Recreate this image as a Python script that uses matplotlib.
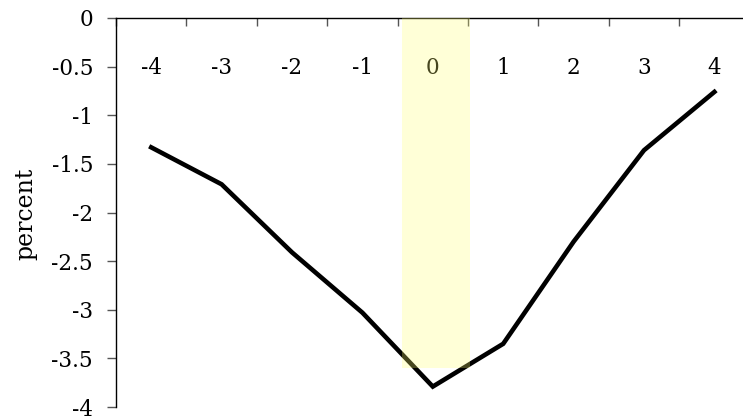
import matplotlib.pyplot as plt
import numpy as np

# event time (categories) and response in percent
event_time = [-4, -3, -2, -1, 0, 1, 2, 3, 4]
percent = [-1.33, -1.71, -2.41, -3.03, -3.79, -3.35, -2.30, -1.36, -0.76]
y_ticks = [0, -0.5, -1, -1.5, -2, -2.5, -3, -3.5, -4]
y_tick_labels = ['0', '-0.5', '-1', '-1.5', '-2', '-2.5', '-3', '-3.5', '-4']

# highlighted window around event
band_x = [-0.44, 0.53]
band_bottom = -3.6

plt.rcParams['font.family'] = 'DejaVu Serif'
plt.rcParams['axes.unicode_minus'] = False

fig = plt.figure(figsize=(7.43, 4.18), dpi=100)
ax = fig.add_axes([116 / 743, 11 / 418, 633.6 / 743, 389 / 418])

x = np.arange(len(event_time))
ax.plot(x, percent, color='black', lw=3.3, solid_joinstyle='miter', zorder=2)

# semi transparent band drawn over the line
ax.fill_between([band_x[0] + 4, band_x[1] + 4], band_bottom, 0,
                color='#ffff70', alpha=0.28, lw=0, zorder=3)

ax.set_xlim(-0.5, len(event_time) - 0.5)
ax.set_ylim(-4, 0)

# x axis line sits at y = 0, ticks at category boundaries
ax.spines['top'].set_visible(False)
ax.spines['right'].set_visible(False)
ax.spines['bottom'].set_position(('data', 0))
ax.spines['bottom'].set_linewidth(1)
ax.spines['left'].set_linewidth(1)

ax.set_xticks(np.arange(len(event_time)) - 0.5, minor=False)
ax.set_xticklabels([])
ax.set_xticks(x, minor=True)
ax.set_xticklabels([str(v) for v in event_time], minor=True)
ax.tick_params(axis='x', which='major', direction='out', length=6,
               color='#555555', width=1)
ax.tick_params(axis='x', which='minor', length=0, pad=28, labelsize=15.5)

ax.set_yticks(y_ticks)
ax.set_yticklabels(y_tick_labels)
ax.tick_params(axis='y', direction='out', length=6.5, width=1,
               color='#555555', pad=10, labelsize=15.5)

fig.text(26 / 743, 1 - 214 / 418, 'percent', rotation=90, fontsize=17,
         ha='center', va='center')

plt.savefig('out.png', dpi=100)
